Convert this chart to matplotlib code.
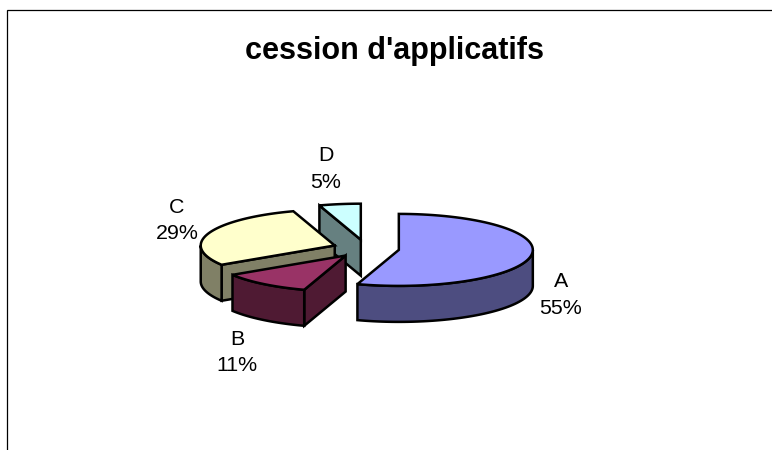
import numpy as np
import matplotlib
matplotlib.use("Agg")
import matplotlib.pyplot as plt
from matplotlib.patches import Polygon

categories = ["A", "B", "C", "D"]
values = [55, 11, 29, 5]

top_colors = ["#9999FF", "#993366", "#FFFFCC", "#CCFFFF"]
side_colors = ["#4D4D80", "#4F1A33", "#808066", "#668080"]

title = "cession d'applicatifs"
label_pos = [(561, 295), (237, 352.5), (177, 220.5), (326, 169)]

CX, CY = 366, 248.5
RX, RY = 134, 36
DEPTH = 36
EXPLODE = 0.248
LW = 1.8

plt.rcParams["font.family"] = ["Liberation Sans", "DejaVu Sans"]
fig = plt.figure(figsize=(7.72, 4.5), dpi=100)
ax = fig.add_axes([0, 0, 1, 1])
ax.set_xlim(0, 772)
ax.set_ylim(450, 0)
ax.axis("off")


def pt(ox, oy, deg):
    a = np.radians(deg)
    return ox + RX * np.sin(a), oy - RY * np.cos(a)


def arc(ox, oy, d0, d1, n=80):
    t = np.linspace(d0, d1, n)
    x, y = pt(ox, oy, t)
    return np.column_stack([x, y])


def shape(pts, color, z):
    ax.add_patch(Polygon(pts, closed=True, facecolor=color, edgecolor="black",
                         linewidth=LW, joinstyle="miter", zorder=z))


def extrude(line, color, z):
    line = np.asarray(line)
    low = line[::-1] + [0, DEPTH]
    shape(np.vstack([line, low]), color, z)


total = sum(values)
edges = np.cumsum([0] + values) / total * 360
for z, i in enumerate([3, 2, 1, 0]):
    d0, d1 = edges[i], edges[i + 1]
    mid = np.radians((d0 + d1) / 2)
    ox = CX + EXPLODE * RX * np.sin(mid)
    oy = CY - EXPLODE * RY * np.cos(mid)
    apex = np.array([[ox, oy]])
    base = 10 * z
    # cut face on the starting radius, visible for slices on the left
    if d0 > 180:
        extrude(np.vstack([arc(ox, oy, d0, d0, 1), apex]), side_colors[i], base)
    # outer wall, front half of the rim only
    lo, hi = max(d0, 90), min(d1, 270)
    if hi > lo:
        extrude(arc(ox, oy, lo, hi), side_colors[i], base + 1)
    shape(np.vstack([apex, arc(ox, oy, d0, d1)]), top_colors[i], base + 2)

for cat, val, (x, y) in zip(categories, values, label_pos):
    ax.text(x, y, f"{cat}\n{val}%", ha="center", va="center", fontsize=15.4,
            linespacing=1.5, color="black", zorder=100)

ax.text(394.5, 51.5, title, ha="center", va="center", fontsize=22,
        fontweight="bold", color="black")

ax.plot([6.8, 6.8, 772], [450, 10.3, 10.3], color="black", lw=0.9,
        solid_joinstyle="miter", clip_on=False)

fig.savefig("out.png", dpi=100, facecolor="white")
